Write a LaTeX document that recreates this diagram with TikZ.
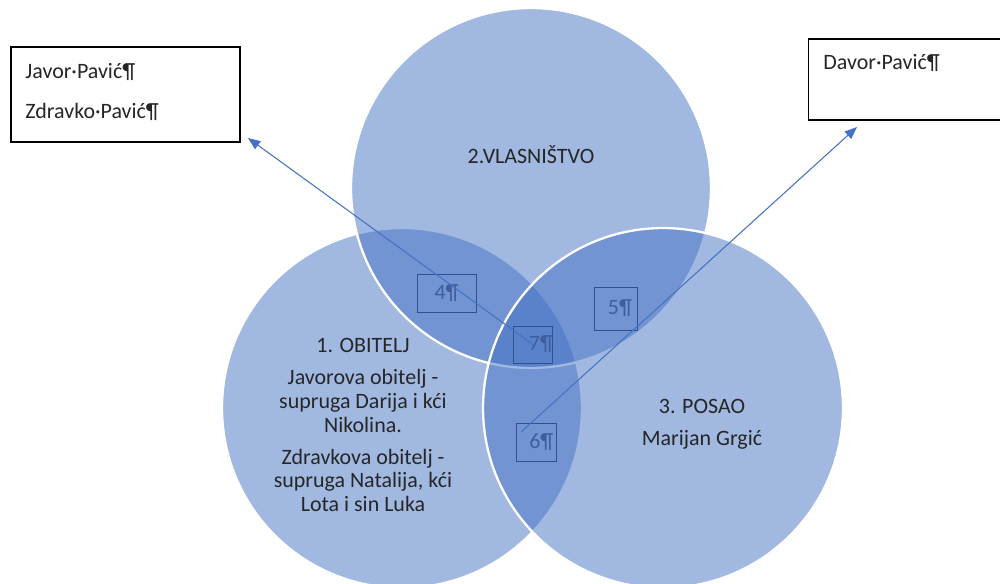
\documentclass[tikz,border=0pt]{standalone}
\usepackage{fontspec}
\setmainfont{Carlito}
\usetikzlibrary{arrows.meta}
\definecolor{officeblue}{HTML}{4472C4}
\definecolor{tagline}{HTML}{2F528F}
\definecolor{tagtext}{HTML}{3F5E9C}

\begin{document}
\begin{tikzpicture}[x=0.02cm,y=-0.02cm,
  vennset/.style={circle,fill=officeblue,fill opacity=0.5,draw=white,line width=1.3pt,minimum size=7.2cm,inner sep=0pt},
  tagbox/.style={draw=tagline,line width=0.5pt,inner sep=0pt,text=tagtext,font=\fontsize{12.5}{13.4}\selectfont},
  namebox/.style={draw=black,line width=0.6pt,inner sep=0pt},
  plain/.style={font=\fontsize{12.5}{13.4}\selectfont,align=center,text=black!85,inner sep=0pt},
  linkarrow/.style={draw=officeblue,line width=0.6pt,-{Triangle[length=7pt,width=5.5pt]}}]
\clip (0,0) rectangle (1000,583);
\fill[white] (0,0) rectangle (1000,583);

% the three sets
\node[vennset] (obitelj) at (402,408) {};
\node[vennset] (vlasnistvo) at (531,188) {};
\node[vennset] (posao) at (663,408) {};

% set labels
\node[plain] (vlasnistvolbl) at (531,155) {2.VLASNIŠTVO};
\node[plain] (obiteljlbl) at (363,425) {1. OBITELJ\\[5pt]
  Javorova obitelj -\\ supruga Darija i kći\\ Nikolina.\\[5pt]
  Zdravkova obitelj -\\ supruga Natalija, kći\\ Lota i sin Luka};
\node[plain] (posaolbl) at (702,424) {3. POSAO\\[5pt] Marijan Grgić};

% overlap tags
\node[tagbox,minimum width=1.18cm,minimum height=0.76cm] (tag4) at (446.5,293) {4¶};
\node[tagbox,minimum width=0.86cm,minimum height=0.86cm] (tag5) at (615.5,308.5) {\hspace{5pt}5¶};
\node[tagbox,minimum width=0.80cm,minimum height=0.76cm] (tag6) at (536,442) {\hspace{6pt}6¶};
\node[tagbox,minimum width=0.72cm,minimum height=0.74cm] (tag7) at (533,344.5) {\hspace{9pt}7¶};

% owners
\node[namebox,minimum width=4.58cm,minimum height=1.9cm] (pavicbox) at (125.5,94.5) {};
\node[plain,anchor=west] (javor) at (25,72) {Javor·Pavić¶};
\node[plain,anchor=west] (zdravko) at (25,112) {Zdravko·Pavić¶};
\node[namebox,minimum width=4.1cm,minimum height=1.62cm] (davorbox) at (911,79.5) {};
\node[plain,anchor=west] (davor) at (823,63) {Davor·Pavić¶};

% links
\coordinate (pavictip) at (248,138);
\coordinate (davortip) at (857,127);
\coordinate (tag6start) at (521,432);
\draw[linkarrow] (tag7.center) -- (pavictip);
\draw[linkarrow] (tag6start) -- (davortip);
\end{tikzpicture}
\end{document}
